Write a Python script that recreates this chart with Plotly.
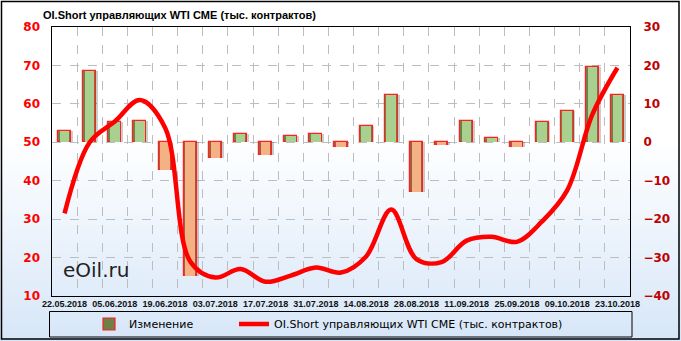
import plotly.graph_objects as go

dates = ["22.05.2018","29.05.2018","05.06.2018","12.06.2018","19.06.2018","26.06.2018",
         "03.07.2018","10.07.2018","17.07.2018","24.07.2018","31.07.2018","07.08.2018",
         "14.08.2018","21.08.2018","28.08.2018","04.09.2018","11.09.2018","18.09.2018",
         "25.09.2018","02.10.2018","09.10.2018","16.10.2018","23.10.2018"]
change = [3.0, 18.5, 5.4, 5.6, -7.2, -34.8, -4.2, 2.2, -3.3, 1.6, 2.1, -1.3,
          4.2, 12.2, -12.9, -0.8, 5.6, 1.0, -1.3, 5.3, 8.1, 19.7, 12.2]
oi_short = [31.5, 50.0, 55.4, 61.0, 53.8, 19.0, 14.8, 17.0, 13.7, 15.3, 17.4, 16.1,
            20.3, 32.5, 19.6, 18.8, 24.4, 25.4, 24.1, 29.4, 37.5, 57.2, 69.4]
left_ticks = [10, 20, 30, 40, 50, 60, 70, 80]
right_ticks = [-40, -30, -20, -10, 0, 10, 20, 30]

title_text = "OI.Short управляющих WTI CME (тыс. контрактов)"
bar_name = "Изменение"

W, H = 681, 341
L, R, T, B = 52, 630, 27, 296
pw, ph = R - L, B - T

def px_x(x):
    return (x - L) / pw

def px_y(y):
    return (B - y) / ph

idx = list(range(len(dates)))
outer_col = ["#6f7f48" if v >= 0 else "#a35c3c" for v in change]
inner_col = ["#a9d08e" if v >= 0 else "#f4b183" for v in change]

fig = go.Figure()
# shadow
fig.add_trace(go.Bar(x=idx, y=change, width=0.52, offset=-0.19, yaxis="y",
                     marker=dict(color="rgba(0,0,0,0.2)", line=dict(width=0)),
                     showlegend=False, hoverinfo="skip"))
fig.add_trace(go.Bar(x=idx, y=change, width=0.52, name=bar_name, yaxis="y",
                     legend="legend",
                     marker=dict(color=outer_col, line=dict(color="#ff2020", width=1.2))))
fig.add_trace(go.Bar(x=idx, y=change, width=0.38, yaxis="y",
                     marker=dict(color=inner_col, line=dict(width=0)),
                     showlegend=False, hoverinfo="skip"))
fig.add_trace(go.Scatter(x=idx, y=oi_short, yaxis="y2", mode="lines",
                         name=title_text, legend="legend2",
                         line=dict(color="#ff0000", width=4.5, shape="spline", smoothing=1.0)))

shapes = []
# gradient background
n = 40
y_start, y_end = 140, 341
c0 = (255, 255, 255)
c1 = (214, 230, 248)
for i in range(n):
    ya = y_start + (y_end - y_start) * i / n
    yb = y_start + (y_end - y_start) * (i + 1) / n
    t = (i + 0.5) / n
    col = tuple(int(round(c0[k] + (c1[k] - c0[k]) * t)) for k in range(3))
    shapes.append(dict(type="rect", xref="paper", yref="paper", layer="below",
                       x0=px_x(0), x1=px_x(W), y0=px_y(yb + 0.5), y1=px_y(ya),
                       fillcolor="rgb(%d,%d,%d)" % col, line=dict(width=0)))
# outer border
shapes.append(dict(type="rect", xref="paper", yref="paper", layer="above",
                   x0=px_x(1.5), x1=px_x(679), y0=px_y(339), y1=px_y(1.5),
                   line=dict(color="black", width=1.5)))
# legend box
shapes.append(dict(type="rect", xref="paper", yref="paper", layer="above",
                   x0=px_x(49.5), x1=px_x(632), y0=px_y(337), y1=px_y(311.5),
                   line=dict(color="black", width=1)))
fig.update_layout(shapes=shapes)

fig.add_annotation(text="<b>" + title_text + "</b>", xref="paper", yref="paper",
                   x=px_x(41), y=px_y(15), xanchor="left", yanchor="middle", showarrow=False,
                   font=dict(family="Liberation Sans", size=11, color="black"))
fig.add_annotation(text="eOil.ru", xref="paper", yref="paper",
                   x=px_x(61), y=px_y(270), xanchor="left", yanchor="middle", showarrow=False,
                   font=dict(family="DejaVu Sans", size=20, color="#222222"))

legend_font = dict(family="DejaVu Sans", size=11, color="black")
fig.update_layout(
    width=W, height=H,
    margin=dict(l=L, r=W - R, t=T, b=H - B, pad=0, autoexpand=False),
    paper_bgcolor="white", plot_bgcolor="rgba(0,0,0,0)",
    barmode="overlay", bargap=0,
    xaxis=dict(range=[-0.5, len(dates) - 0.5], tickmode="array",
               tickvals=idx[::2], ticktext=dates[::2], showgrid=False,
               showline=True, mirror=True, linecolor="black", linewidth=1,
               ticks="", ticklabelstandoff=-1,
               tickfont=dict(family="Liberation Sans", size=9, color="#111111", weight="bold"),
               minor=dict(tickmode="array", tickvals=[i + 0.5 for i in idx[:-1]],
                          showgrid=True, gridcolor="#bdbdbd", griddash="dash", gridwidth=1),
               zeroline=False, fixedrange=True),
    yaxis=dict(range=[-40, 30], side="right", tickmode="array", tickvals=right_ticks,
               showgrid=True, gridcolor="#bdbdbd", griddash="dash", gridwidth=1,
               showline=True, mirror=True, linecolor="black", linewidth=1,
               zeroline=False, ticks="", ticklabelstandoff=10,
               tickfont=dict(family="DejaVu Sans", size=12, color="#c00000", weight="bold")),
    yaxis2=dict(range=[10, 80], side="left", overlaying="y", tickmode="array",
                tickvals=left_ticks, showgrid=False, zeroline=False, ticks="",
                ticklabelstandoff=11, showline=False,
                tickfont=dict(family="DejaVu Sans", size=12, color="#ff0000", weight="bold")),
    legend=dict(orientation="h", x=px_x(89), y=px_y(324), xanchor="left", yanchor="middle",
                bgcolor="rgba(0,0,0,0)", borderwidth=0, font=legend_font),
    legend2=dict(orientation="h", x=px_x(234), y=px_y(324), xanchor="left", yanchor="middle",
                 bgcolor="rgba(0,0,0,0)", borderwidth=0, font=legend_font),
)

fig.write_html("out.html")
